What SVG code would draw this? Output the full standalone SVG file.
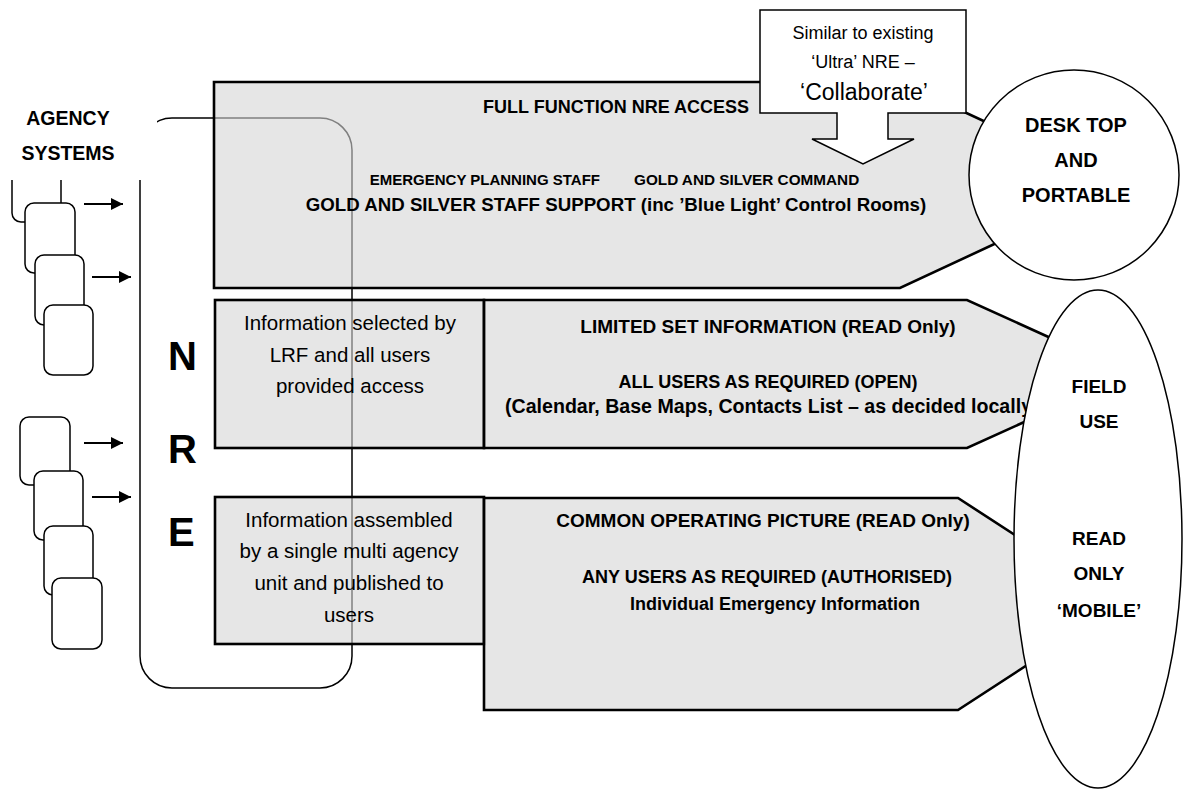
<svg xmlns="http://www.w3.org/2000/svg" width="1183" height="790" viewBox="0 0 1183 790">
<style>
text{font-family:"Liberation Sans",Arial,sans-serif;fill:#000}
.b{font-weight:bold}
.box{fill:#d5d5d5;fill-opacity:0.6;stroke:#000;stroke-width:2.6}
.card{fill:#fff;stroke:#000;stroke-width:1.5}
.ln{fill:none;stroke:#000;stroke-width:1.5}
.arr{stroke:#000;stroke-width:2;marker-end:url(#ah)}
.wh{fill:#fff;stroke:#000;stroke-width:1.5}
.m{text-anchor:middle}
.e{text-anchor:end}
</style>
<defs>
<marker id="ah" viewBox="0 0 12 12" refX="12" refY="6" markerWidth="12" markerHeight="12" markerUnits="userSpaceOnUse" orient="auto">
<path d="M0,0 L12,6 L0,12 Z" fill="#000"/>
</marker>
</defs>
<g id="connectors">
<rect class="ln" x="140" y="118" width="212" height="570" rx="32" ry="32"/>
<line class="arr" x1="84" y1="204" x2="123" y2="204"/>
<line class="arr" x1="92" y1="277" x2="131" y2="277"/>
<line class="arr" x1="84" y1="443" x2="123" y2="443"/>
<line class="arr" x1="92" y1="497" x2="131" y2="497"/>
</g>
<g id="agency-cards">
<rect class="card" x="12" y="120" width="49" height="102" rx="9"/>
<rect class="card" x="25" y="203" width="50" height="70" rx="9"/>
<rect class="card" x="35" y="255" width="49" height="70" rx="9"/>
<rect class="card" x="44" y="305" width="49" height="70" rx="9"/>
<rect class="card" x="20" y="417" width="50" height="68" rx="9"/>
<rect class="card" x="34" y="471" width="49" height="69" rx="9"/>
<rect class="card" x="44" y="526" width="49" height="69" rx="9"/>
<rect class="card" x="52" y="578" width="50" height="71" rx="9"/>
</g>
<g id="agency-label">
<rect x="0" y="90" width="157" height="90" fill="#fff"/>
<text class="b m" x="68" y="125" font-size="19.5">AGENCY</text>
<text class="b m" x="68" y="160" font-size="19.5">SYSTEMS</text>
</g>
<g id="nre-label">
<text class="b" x="168" y="370" font-size="40">N</text>
<text class="b" x="168" y="463" font-size="40">R</text>
<text class="b" x="168" y="546" font-size="40">E</text>
</g>
<g id="full-function">
<path class="box" d="M214,82 H900 L1121,185 L900,288 H214 Z"/>
<text class="b m" x="616" y="113" font-size="18">FULL FUNCTION NRE ACCESS</text>
<text class="b e" x="600" y="185" font-size="15">EMERGENCY PLANNING STAFF</text>
<text class="b" x="634" y="185" font-size="15.3">GOLD AND SILVER COMMAND</text>
<text class="b m" x="616" y="211" font-size="18.7">GOLD AND SILVER STAFF SUPPORT (inc ’Blue Light’ Control Rooms)</text>
</g>
<g id="limited-set">
<rect class="box" x="215" y="300" width="269" height="148"/>
<path class="box" d="M484,300 H967 L1130,374 L967,448 H484 Z"/>
<text class="m" x="350" y="330" font-size="20.5">Information selected by</text>
<text class="m" x="350" y="362" font-size="20.5">LRF and all users</text>
<text class="m" x="350" y="393" font-size="20.5">provided access</text>
<text class="b m" x="768" y="333" font-size="19">LIMITED SET INFORMATION (READ Only)</text>
<text class="b m" x="768" y="388" font-size="18">ALL USERS AS REQUIRED (OPEN)</text>
<text class="b" x="505" y="413" font-size="19.6">(Calendar, Base Maps, Contacts List – as decided locally)</text>
</g>
<g id="common-operating">
<rect class="box" x="215" y="497" width="269" height="147"/>
<path class="box" d="M484,498 H958 L1121,604 L958,710 H484 Z"/>
<text class="m" x="349" y="527" font-size="20.5">Information assembled</text>
<text class="m" x="349" y="558" font-size="20.5">by a single multi agency</text>
<text class="m" x="349" y="590" font-size="20.5">unit and published to</text>
<text class="m" x="349" y="622" font-size="20.5">users</text>
<text class="b m" x="763" y="527" font-size="19">COMMON OPERATING PICTURE (READ Only)</text>
<text class="b m" x="767" y="583" font-size="18">ANY USERS AS REQUIRED (AUTHORISED)</text>
<text class="b m" x="775" y="610" font-size="18">Individual Emergency Information</text>
</g>
<g id="callout">
<path class="wh" d="M760,10 H966 V113 H888 V139 H914 L863,164 L812,139 H837 V113 H760 Z"/>
<text class="m" x="863" y="39" font-size="18">Similar to existing</text>
<text class="m" x="863" y="68" font-size="18">‘Ultra’ NRE –</text>
<text class="m" x="864" y="100" font-size="23">‘Collaborate’</text>
</g>
<g id="desktop">
<circle class="wh" cx="1074" cy="175" r="105"/>
<text class="b m" x="1076" y="132" font-size="20">DESK TOP</text>
<text class="b m" x="1076" y="167" font-size="20">AND</text>
<text class="b m" x="1076" y="202" font-size="20">PORTABLE</text>
</g>
<g id="field-use">
<ellipse class="wh" cx="1098" cy="539" rx="84" ry="249"/>
<text class="b m" x="1099" y="393" font-size="19">FIELD</text>
<text class="b m" x="1099" y="428" font-size="19">USE</text>
<text class="b m" x="1099" y="545" font-size="19">READ</text>
<text class="b m" x="1099" y="580" font-size="19">ONLY</text>
<text class="b m" x="1099" y="617" font-size="19">‘MOBILE’</text>
</g>
</svg>
